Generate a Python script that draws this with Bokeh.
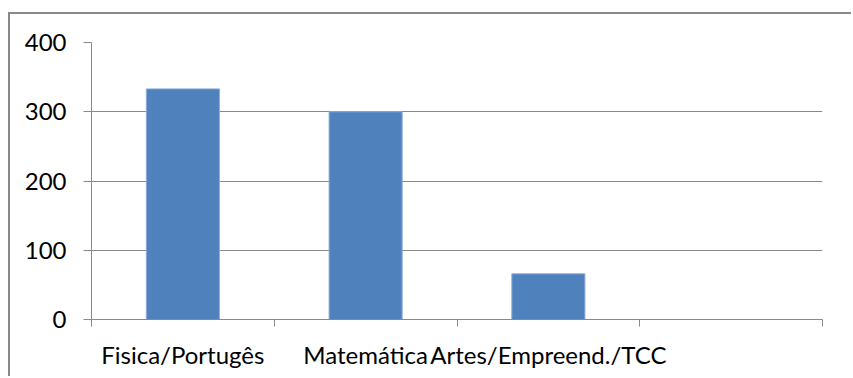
from bokeh.plotting import figure
from bokeh.models import Range1d, FixedTicker, ColumnDataSource
from bokeh.embed import file_html
from bokeh.resources import INLINE

# Chart data
categories = ["Fisica/Portugês", "Matemática", "Artes/Empreend./TCC", ""]
values = [333, 300, 66, 0]
y_ticks = [0, 100, 200, 300, 400]

FONT = "Lato"
GRAY = "#898989"
BAR = "#4F81BD"

# one slot per category on a numeric axis: bars at slot centres,
# tick marks at slot boundaries
centers = [i + 0.5 for i in range(len(categories))]
bounds = list(range(len(categories) + 1))
bars = ColumnDataSource(dict(
    x=[c for c, v in zip(centers, values) if v > 0],
    top=[v for v in values if v > 0],
))

p = figure(
    width=843, height=364,
    output_backend="svg", toolbar_location=None,
    x_range=Range1d(0, len(categories)), y_range=Range1d(0, 400),
    min_border_left=81, min_border_right=31,
    min_border_top=28, min_border_bottom=59,
)
# chart-area border on the left and top edges of the plot element
p.styles = {
    "margin-left": "8px",
    "margin-top": "12px",
    "border-left": f"2px solid {GRAY}",
    "border-top": f"2px solid {GRAY}",
}
p.outline_line_color = None
p.background_fill_color = "white"
p.border_fill_color = "white"

p.vbar(x="x", top="top", width=0.4, source=bars,
       fill_color=BAR, line_color="#8DAEDA", line_width=1)

# horizontal gridlines
p.xgrid.visible = False
p.ygrid.ticker = FixedTicker(ticks=y_ticks)
p.ygrid.grid_line_color = GRAY
p.ygrid.grid_line_width = 1

# y axis
yax = p.yaxis[0]
yax.ticker = FixedTicker(ticks=y_ticks)
yax.axis_line_color = GRAY
yax.major_tick_line_color = GRAY
yax.major_tick_out = 8
yax.major_tick_in = 0
yax.minor_tick_line_color = None
yax.major_label_standoff = 17
yax.major_label_text_font = FONT
yax.major_label_text_font_size = "24px"
yax.major_label_text_color = "black"

# x axis: labels at slot centres, short marks at slot boundaries
xax = p.xaxis[0]
xax.ticker = FixedTicker(ticks=centers, minor_ticks=bounds)
xax.major_label_overrides = {c: name for c, name in zip(centers, categories)}
xax.axis_line_color = GRAY
xax.major_tick_line_color = None
xax.major_tick_out = 0
xax.major_tick_in = 0
xax.minor_tick_line_color = GRAY
xax.minor_tick_out = 7
xax.minor_tick_in = 0
xax.major_label_standoff = 13
xax.major_label_text_font = FONT
xax.major_label_text_font_size = "24px"
xax.major_label_text_color = "black"

open("out.html", "w").write(file_html(p, INLINE))
